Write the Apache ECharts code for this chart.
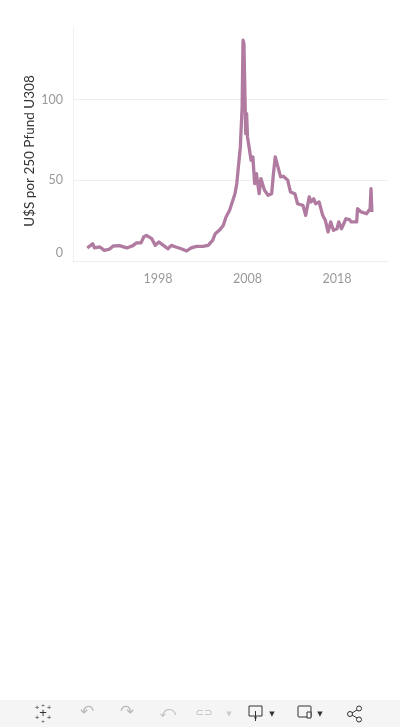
<!DOCTYPE html>
<html>
<head>
<meta charset="utf-8">
<script src="https://cdn.jsdelivr.net/npm/echarts@6/dist/echarts.min.js"></script>
<style>
  html, body { margin: 0; padding: 0; background: #fff; }
  #main { width: 400px; height: 727px; }
</style>
</head>
<body>
<div id="main"></div>
<script>
// Uranpreis, Jahr (dezimal) und Wert
var years = [1990.1, 1990.7, 1990.9, 1991.5, 1992.0, 1992.6, 1993.0, 1993.7, 1994.5, 1995.2,
  1995.6, 1996.1, 1996.4, 1996.7, 1997.3, 1997.7, 1998.1, 1998.6, 1999.1, 1999.5,
  2000.0, 2000.6, 2001.2, 2001.7, 2002.3, 2003.0, 2003.6, 2004.1, 2004.4, 2004.9,
  2005.3, 2005.6, 2006.0, 2006.6, 2006.8, 2007.2, 2007.4, 2007.5, 2007.6, 2007.8,
  2007.9, 2008.0, 2008.4, 2008.6, 2008.8, 2009.0, 2009.3, 2009.5, 2009.9, 2010.3,
  2010.7, 2010.9, 2011.1, 2011.4, 2011.7, 2012.0, 2012.5, 2012.8, 2013.3, 2013.6,
  2014.2, 2014.5, 2014.9, 2015.1, 2015.4, 2015.6, 2016.0, 2016.4, 2016.7, 2017.0,
  2017.3, 2017.6, 2018.0, 2018.2, 2018.5, 2019.0, 2019.4, 2019.6, 2020.2, 2020.3,
  2020.7, 2021.3, 2021.5, 2021.7, 2021.8, 2021.9];
var prices = [8.1, 10.7, 8.1, 8.7, 6.6, 7.4, 9.3, 9.5, 8.1, 9.5,
  11.2, 11.2, 14.9, 15.9, 13.8, 9.7, 11.8, 9.7, 7.6, 9.7,
  8.7, 7.6, 6.2, 8.1, 9.1, 9.1, 9.7, 12.8, 16.9, 19.4,
  22.1, 27.3, 31.4, 41.7, 47.9, 70.7, 95.4, 136.8, 134.7, 78.9,
  91.3, 76.9, 62.4, 64.5, 47.9, 54.1, 41.7, 51.0, 43.8, 40.7,
  41.7, 54.1, 64.5, 58.3, 52.1, 52.5, 50.0, 42.8, 41.7, 35.5,
  34.5, 28.3, 39.7, 36.6, 38.6, 35.5, 36.6, 28.3, 25.2, 18.0,
  24.2, 19.0, 20.0, 24.2, 20.0, 26.2, 25.6, 24.2, 24.2, 32.4,
  30.4, 29.3, 30.4, 32.4, 44.8, 30.4];
var yearTicks = [1998, 2008, 2018];
var valueTicks = [0, 50, 100];
var gridValues = [50, 100];

var myChart = echarts.init(document.getElementById('main'));

var lineData = [];
for (var i = 0; i < years.length; i++) {
  lineData.push([years[i], prices[i]]);
}

var grey = '#bbb';
var toolbarY = 713;

option = {
  animation: false,
  textStyle: { fontFamily: 'Lato' },
  grid: { left: 73, right: 12, top: 27, bottom: 466 },
  xAxis: {
    type: 'value',
    min: 1988.5,
    max: 2023.7,
    axisLine: { show: true, lineStyle: { color: '#eee' } },
    axisTick: { show: false },
    splitLine: { show: false },
    axisLabel: {
      customValues: yearTicks,
      color: '#999',
      fontSize: 12.5,
      margin: 11,
      formatter: function (v) { return String(Math.round(v)); }
    }
  },
  yAxis: {
    type: 'value',
    min: 0,
    max: 145,
    axisLine: { show: true, lineStyle: { color: '#f0f0f0' } },
    axisTick: { show: false },
    splitLine: { show: false },
    axisLabel: {
      customValues: valueTicks,
      color: '#999',
      fontSize: 12.5,
      margin: 10,
      formatter: function (v) { return v === 0 ? '{zero|0}' : String(v); },
      rich: { zero: { color: '#999', fontSize: 12.5, padding: [0, 0, 16, 0] } }
    }
  },
  graphic: [
    {
      type: 'text', x: 30, y: 151, rotation: Math.PI / 2,
      style: {
        text: 'U$S por 250 Pfund U308', fill: '#333', fontSize: 13.5,
        fontFamily: 'Lato', textAlign: 'center', textVerticalAlign: 'middle'
      }
    },
    {
      type: 'rect', shape: { x: 0, y: 700, width: 400, height: 27 },
      style: { fill: '#f5f5f5' }, z: -1
    },
    // Tableau-Logo
    { type: 'text', x: 43, y: toolbarY, style: { text: '+', fill: '#333', fontSize: 13, textAlign: 'center', textVerticalAlign: 'middle' } },
    { type: 'text', x: 37, y: 708, style: { text: '+', fill: '#333', fontSize: 8, textAlign: 'center', textVerticalAlign: 'middle' } },
    { type: 'text', x: 49, y: 708, style: { text: '+', fill: '#333', fontSize: 8, textAlign: 'center', textVerticalAlign: 'middle' } },
    { type: 'text', x: 37, y: 718, style: { text: '+', fill: '#333', fontSize: 8, textAlign: 'center', textVerticalAlign: 'middle' } },
    { type: 'text', x: 49, y: 718, style: { text: '+', fill: '#333', fontSize: 8, textAlign: 'center', textVerticalAlign: 'middle' } },
    { type: 'text', x: 43, y: 705, style: { text: '+', fill: '#333', fontSize: 6, textAlign: 'center', textVerticalAlign: 'middle' } },
    { type: 'text', x: 43, y: 721, style: { text: '+', fill: '#333', fontSize: 6, textAlign: 'center', textVerticalAlign: 'middle' } },
    // Rückgängig / Wiederholen / Zurücksetzen / Aktualisieren
    { type: 'text', x: 87, y: toolbarY, style: { text: '↶', fill: grey, fontSize: 17, fontFamily: 'DejaVu Sans', textAlign: 'center', textVerticalAlign: 'middle' } },
    { type: 'text', x: 127, y: toolbarY, style: { text: '↷', fill: grey, fontSize: 17, fontFamily: 'DejaVu Sans', textAlign: 'center', textVerticalAlign: 'middle' } },
    { type: 'text', x: 167, y: toolbarY, style: { text: '⤺', fill: grey, fontSize: 16, fontFamily: 'DejaVu Sans', textAlign: 'center', textVerticalAlign: 'middle' } },
    { type: 'text', x: 204, y: toolbarY, style: { text: '⊂⊃', fill: grey, fontSize: 10, fontFamily: 'DejaVu Sans', textAlign: 'center', textVerticalAlign: 'middle' } },
    { type: 'text', x: 229, y: 714, style: { text: '▼', fill: '#ccc', fontSize: 7, fontFamily: 'DejaVu Sans', textAlign: 'center', textVerticalAlign: 'middle' } },
    // Download
    { type: 'rect', shape: { x: 249, y: 706, width: 13, height: 10 }, style: { fill: 'none', stroke: '#333', lineWidth: 1 } },
    { type: 'line', shape: { x1: 255.5, y1: 711, x2: 255.5, y2: 721 }, style: { stroke: '#333', lineWidth: 1 } },
    { type: 'text', x: 255.5, y: 719, style: { text: '▼', fill: '#333', fontSize: 5, textAlign: 'center', textVerticalAlign: 'middle' } },
    { type: 'text', x: 272, y: 714, style: { text: '▼', fill: '#333', fontSize: 7, fontFamily: 'DejaVu Sans', textAlign: 'center', textVerticalAlign: 'middle' } },
    // Gerätevorschau
    { type: 'rect', shape: { x: 298, y: 706, width: 13, height: 11, r: 1 }, style: { fill: 'none', stroke: '#333', lineWidth: 1 } },
    { type: 'rect', shape: { x: 307, y: 712, width: 4, height: 6 }, style: { fill: '#f5f5f5', stroke: '#333', lineWidth: 1 } },
    { type: 'text', x: 320, y: 714, style: { text: '▼', fill: '#333', fontSize: 7, fontFamily: 'DejaVu Sans', textAlign: 'center', textVerticalAlign: 'middle' } },
    // Teilen
    { type: 'circle', shape: { cx: 350, cy: 714, r: 2.5 }, style: { fill: 'none', stroke: '#333', lineWidth: 1 } },
    { type: 'circle', shape: { cx: 359, cy: 708.5, r: 2.5 }, style: { fill: 'none', stroke: '#333', lineWidth: 1 } },
    { type: 'circle', shape: { cx: 359, cy: 719.5, r: 2.5 }, style: { fill: 'none', stroke: '#333', lineWidth: 1 } },
    { type: 'line', shape: { x1: 352, y1: 713, x2: 357, y2: 710 }, style: { stroke: '#333', lineWidth: 1 } },
    { type: 'line', shape: { x1: 352, y1: 715, x2: 357, y2: 718 }, style: { stroke: '#333', lineWidth: 1 } }
  ],
  series: [
    {
      name: 'Uran',
      type: 'line',
      data: lineData,
      showSymbol: false,
      lineStyle: { color: '#b07aa1', width: 3.3, join: 'round' },
      itemStyle: { color: '#b07aa1' },
      markLine: {
        silent: true,
        symbol: 'none',
        label: { show: false },
        lineStyle: { color: '#eeeeee', width: 1, type: 'solid' },
        data: gridValues.map(function (v) { return { yAxis: v }; }),
        z: 0
      }
    }
  ]
};

myChart.setOption(option);
</script>
</body>
</html>
